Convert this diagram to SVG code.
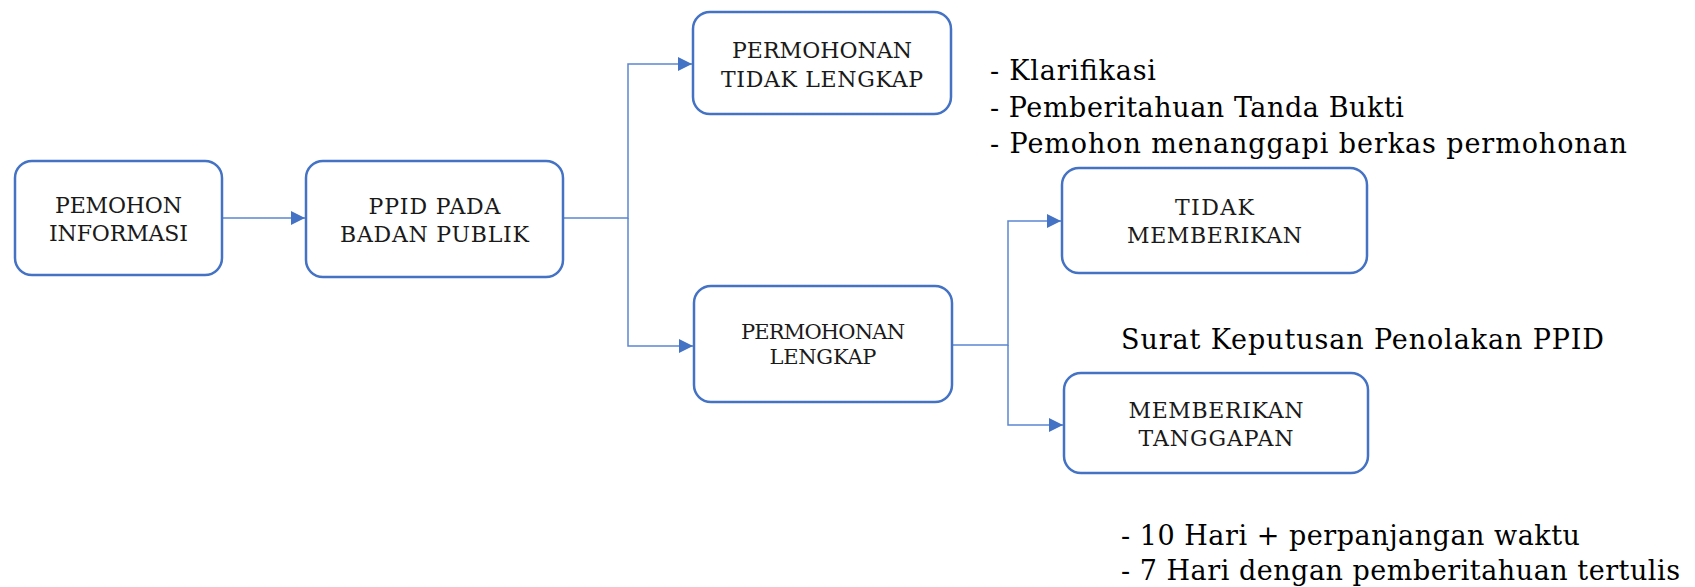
<svg xmlns="http://www.w3.org/2000/svg" width="1695" height="587" viewBox="0 0 1695 587">
<style>
.box{fill:#ffffff;stroke:#4472C4;stroke-width:2.5}
.bt{font-family:"DejaVu Serif","Liberation Serif",serif;font-size:22px;fill:#1a1a1a;text-anchor:middle}
.bt4{font-size:21px}
.note{font-family:"DejaVu Serif","Liberation Serif",serif;font-size:27px;fill:#000000}
.con{fill:none;stroke:#5B86D1;stroke-width:1.5}
</style>
<defs>
<marker id="arr" markerUnits="userSpaceOnUse" markerWidth="15" markerHeight="15" refX="14" refY="7" orient="auto">
<path d="M0,0 L14,7 L0,14 z" fill="#4472C4"/>
</marker>
</defs>
<rect width="1695" height="587" fill="#ffffff"/>
<g id="connectors">
<path class="con" d="M222,218 L305,218" marker-end="url(#arr)"/>
<path class="con" d="M563,218 L628,218 L628,64 L692,64" marker-end="url(#arr)"/>
<path class="con" d="M628,218 L628,346 L693,346" marker-end="url(#arr)"/>
<path class="con" d="M952,345 L1008,345 L1008,221 L1061,221" marker-end="url(#arr)"/>
<path class="con" d="M1008,345 L1008,425 L1063,425" marker-end="url(#arr)"/>
</g>
<g id="n1">
<rect class="box" x="15" y="161" width="207" height="114" rx="17"/>
<text class="bt" x="118.5" y="213" textLength="127" lengthAdjust="spacing">PEMOHON</text>
<text class="bt" x="118.5" y="241" textLength="139" lengthAdjust="spacing">INFORMASI</text>
</g>
<g id="n2">
<rect class="box" x="306" y="161" width="257" height="116" rx="17"/>
<text class="bt" x="434.5" y="214" textLength="132" lengthAdjust="spacing">PPID PADA</text>
<text class="bt" x="434.5" y="242" textLength="189" lengthAdjust="spacing">BADAN PUBLIK</text>
</g>
<g id="n3">
<rect class="box" x="693" y="12" width="258" height="102" rx="17"/>
<text class="bt" x="822" y="58" textLength="180" lengthAdjust="spacing">PERMOHONAN</text>
<text class="bt" x="822" y="87" textLength="202" lengthAdjust="spacing">TIDAK LENGKAP</text>
</g>
<g id="n4">
<rect class="box" x="694" y="286" width="258" height="116" rx="17"/>
<text class="bt bt4" x="823" y="339" textLength="164" lengthAdjust="spacing">PERMOHONAN</text>
<text class="bt bt4" x="823" y="364" textLength="107" lengthAdjust="spacing">LENGKAP</text>
</g>
<g id="n5">
<rect class="box" x="1062" y="168" width="305" height="105" rx="17"/>
<text class="bt" x="1214.5" y="215" textLength="79" lengthAdjust="spacing">TIDAK</text>
<text class="bt" x="1214.5" y="243" textLength="175" lengthAdjust="spacing">MEMBERIKAN</text>
</g>
<g id="n6">
<rect class="box" x="1064" y="373" width="304" height="100" rx="17"/>
<text class="bt" x="1216" y="418" textLength="175" lengthAdjust="spacing">MEMBERIKAN</text>
<text class="bt" x="1216" y="446" textLength="155" lengthAdjust="spacing">TANGGAPAN</text>
</g>
<g id="notes">
<text class="note" x="990" y="80" textLength="166" lengthAdjust="spacing">- Klarifikasi</text>
<text class="note" x="990" y="117" textLength="414" lengthAdjust="spacing">- Pemberitahuan Tanda Bukti</text>
<text class="note" x="990" y="153" textLength="637" lengthAdjust="spacing">- Pemohon menanggapi berkas permohonan</text>
<text class="note" x="1121" y="349" textLength="483" lengthAdjust="spacing">Surat Keputusan Penolakan PPID</text>
<text class="note" x="1121" y="545" textLength="459" lengthAdjust="spacing">- 10 Hari + perpanjangan waktu</text>
<text class="note" x="1121" y="580" textLength="559" lengthAdjust="spacing">- 7 Hari dengan pemberitahuan tertulis</text>
</g>
</svg>
